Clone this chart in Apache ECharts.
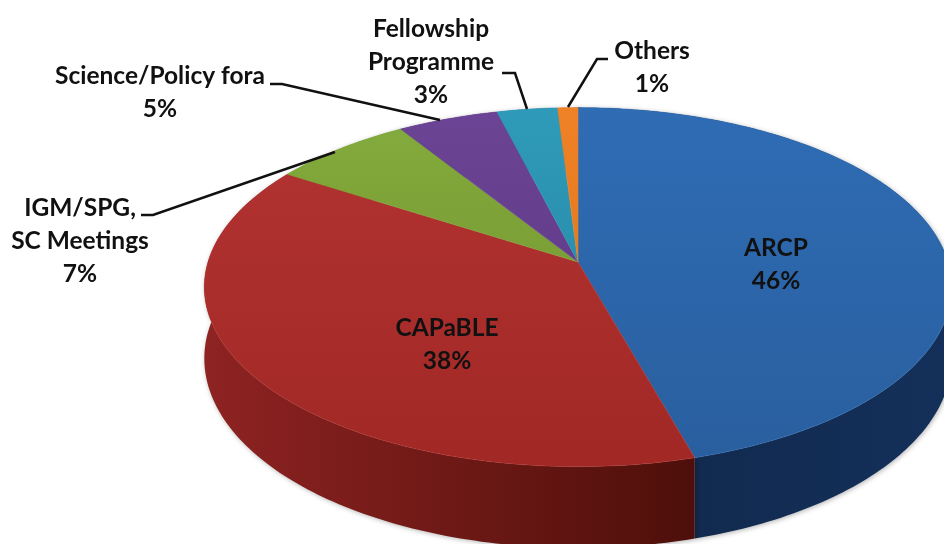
<!DOCTYPE html>
<html>
<head>
<meta charset="utf-8">
<style>
  html, body { margin: 0; padding: 0; background: #fff; }
  #chart { width: 944px; height: 544px; overflow: hidden; }
</style>
<script src="https://cdn.jsdelivr.net/npm/echarts@6/dist/echarts.min.js"></script>
</head>
<body>
<div id="chart"></div>
<script>
// data (slice sizes; labels show them rounded)
const categories = ['ARCP', 'CAPaBLE', 'IGM/SPG,\nSC Meetings', 'Science/Policy fora', 'Fellowship\nProgramme', 'Others']
const shareValues = [45.6, 38.4, 7, 5, 3, 1]

const topColors = [
  ['#2f6cb4', '#295f9f'],
  ['#b03230', '#a12825'],
  ['#83aa3c', '#7a9f36'],
  ['#6c4495', '#643d8c'],
  ['#2f9ab9', '#2a90ae'],
  ['#ef8226', '#e67a20'],
]
const wallColors = [
  ['#10274a', '#14305a'],
  ['#8e2322', '#4e0f0a'],
  ['#5c7a28', '#5c7a28'],
  ['#4a2f68', '#4a2f68'],
  ['#206c82', '#206c82'],
  ['#a85a1a', '#a85a1a'],
]

// label centres and leader lines, placed by hand like in the original
const labelCentres = [[776, 265], [447, 345], [80, 241], [160, 93], [431, 62], [652, 68]]
const leaderLines = [
  null,
  null,
  [[141, 215], [153, 215], [335, 152]],
  [[270, 84], [282, 84], [440, 120]],
  [[502, 73], [515, 73], [527, 109]],
  [[608, 59], [597, 59], [568, 107]],
]

// the tilted disc: perspective makes the near half larger
const cx = 578
const cy = 262
const radiusX = 370
const radiusY = 176
const perspective = 0.14
const depth = 70

const total = shareValues.reduce((a, b) => a + b, 0)

function sliceRange(index) {
  const before = shareValues.slice(0, index).reduce((a, b) => a + b, 0)
  return [before / total * 360, (before + shareValues[index]) / total * 360]
}

function project(deg, drop) {
  const rad = deg * Math.PI / 180
  const u = Math.sin(rad)
  const v = -Math.cos(rad)
  const s = 1 / (1 - perspective * v)
  return [cx + radiusX * u * s, cy + radiusY * v * s + drop * s]
}

function arcPoints(from, to, drop) {
  const pts = []
  const steps = Math.max(2, Math.ceil(to - from))
  for (let i = 0; i <= steps; i++) {
    pts.push(project(from + (to - from) * i / steps, drop))
  }
  return pts
}

function gradient(x2, y2, pair) {
  return new echarts.graphic.LinearGradient(0, 0, x2, y2, [
    { offset: 0, color: pair[0] },
    { offset: 1, color: pair[1] },
  ])
}

function renderWall(params) {
  const i = params.dataIndex
  const [from, to] = sliceRange(i)
  const pts = arcPoints(from, to, 0).concat(arcPoints(from, to, depth).reverse())
  return {
    type: 'polygon',
    shape: { points: pts },
    style: {
      fill: gradient(1, 0, wallColors[i]),
      shadowColor: 'rgba(0,0,0,0.3)',
      shadowBlur: 5,
      shadowOffsetX: 1,
      shadowOffsetY: 1,
    },
  }
}

function renderTop(params) {
  const i = params.dataIndex
  const [from, to] = sliceRange(i)
  const pts = [[cx, cy]].concat(arcPoints(from, to, 0))
  return {
    type: 'polygon',
    shape: { points: pts },
    style: { fill: gradient(0, 1, topColors[i]), stroke: topColors[i][0], lineWidth: 0.5 },
  }
}

function renderLabel(params) {
  const i = params.dataIndex
  const children = [{
    type: 'text',
    x: labelCentres[i][0],
    y: labelCentres[i][1],
    style: {
      text: categories[i] + '\n' + Math.round(shareValues[i]) + '%',
      fill: '#111',
      font: 'bold 24.5px Lato',
      lineHeight: 33,
      align: 'center',
      verticalAlign: 'middle',
    },
  }]
  if (leaderLines[i]) {
    children.push({
      type: 'polyline',
      shape: { points: leaderLines[i] },
      style: { fill: 'none', stroke: '#111', lineWidth: 2.5 },
    })
  }
  return { type: 'group', children: children }
}

const chart = echarts.init(document.getElementById('chart'), null, { renderer: 'canvas' })

chart.setOption({
  animation: false,
  backgroundColor: '#fff',
  series: [
    { type: 'custom', coordinateSystem: 'none', silent: true, z: 1, clip: false, data: shareValues, renderItem: renderWall },
    { type: 'custom', coordinateSystem: 'none', silent: true, z: 2, clip: false, data: shareValues, renderItem: renderTop },
    { type: 'custom', coordinateSystem: 'none', silent: true, z: 3, clip: false, data: shareValues, renderItem: renderLabel },
  ],
})
</script>
</body>
</html>
